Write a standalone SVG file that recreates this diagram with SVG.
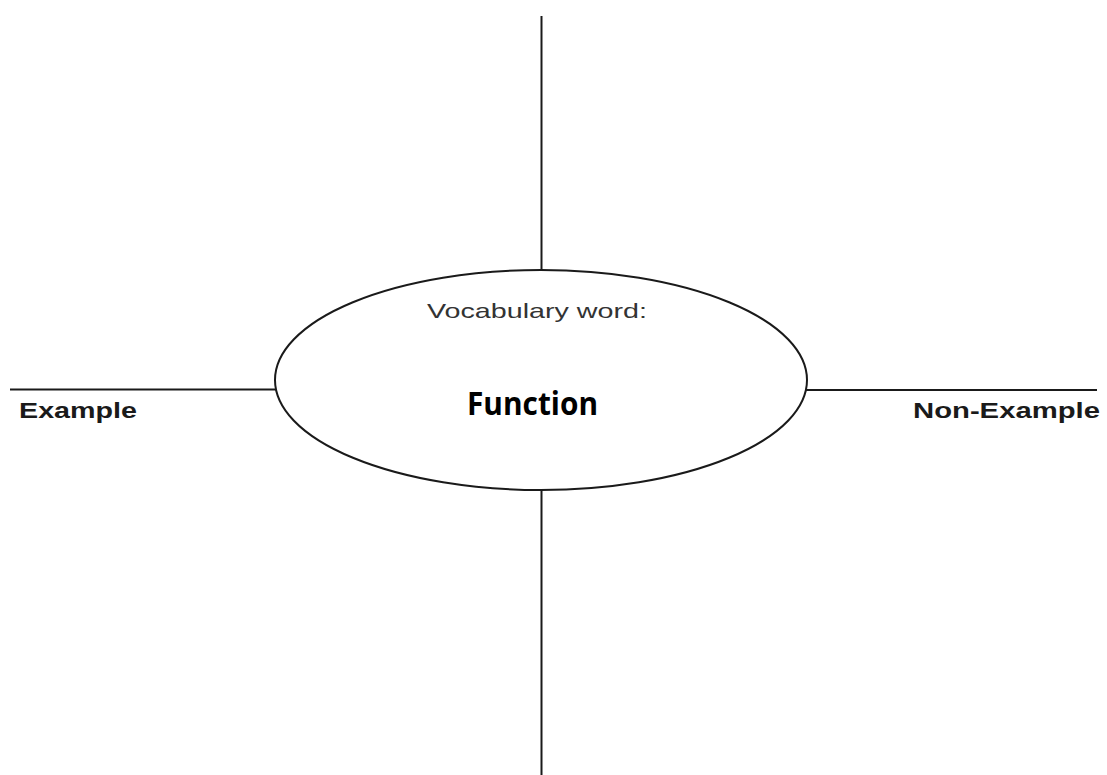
<svg xmlns="http://www.w3.org/2000/svg" width="1107" height="775" viewBox="0 0 1107 775">
<style>
.ln{stroke:#1a1a1a;stroke-width:2;fill:none}
.lbl{font-family:"Liberation Sans",Arial,sans-serif;font-weight:bold;font-size:22px;fill:#1a1a1a}
.voc{font-family:"Liberation Sans",Arial,sans-serif;font-size:21px;fill:#333}
.word{font-family:"Open Sans","Noto Sans",sans-serif;font-weight:bold;font-size:32px;fill:#000}
</style>
<rect width="1107" height="775" fill="#fff"/>
<g id="connectors">
<line class="ln" x1="541.5" y1="16" x2="541.5" y2="270"/>
<line class="ln" x1="541.5" y1="490" x2="541.5" y2="775"/>
<line class="ln" x1="10" y1="389.5" x2="276" y2="389.5"/>
<line class="ln" x1="805" y1="390" x2="1097" y2="390"/>
</g>
<g id="center">
<ellipse class="ln" cx="541" cy="380" rx="266" ry="110"/>
<text class="voc" x="427" y="318" textLength="220" lengthAdjust="spacingAndGlyphs">Vocabulary word:</text>
<text class="word" x="467" y="415" textLength="131" lengthAdjust="spacingAndGlyphs">Function</text>
</g>
<g id="example">
<text class="lbl" x="19" y="418" textLength="118" lengthAdjust="spacingAndGlyphs">Example</text>
</g>
<g id="non-example">
<text class="lbl" x="913" y="418" textLength="187" lengthAdjust="spacingAndGlyphs">Non-Example</text>
</g>
</svg>
